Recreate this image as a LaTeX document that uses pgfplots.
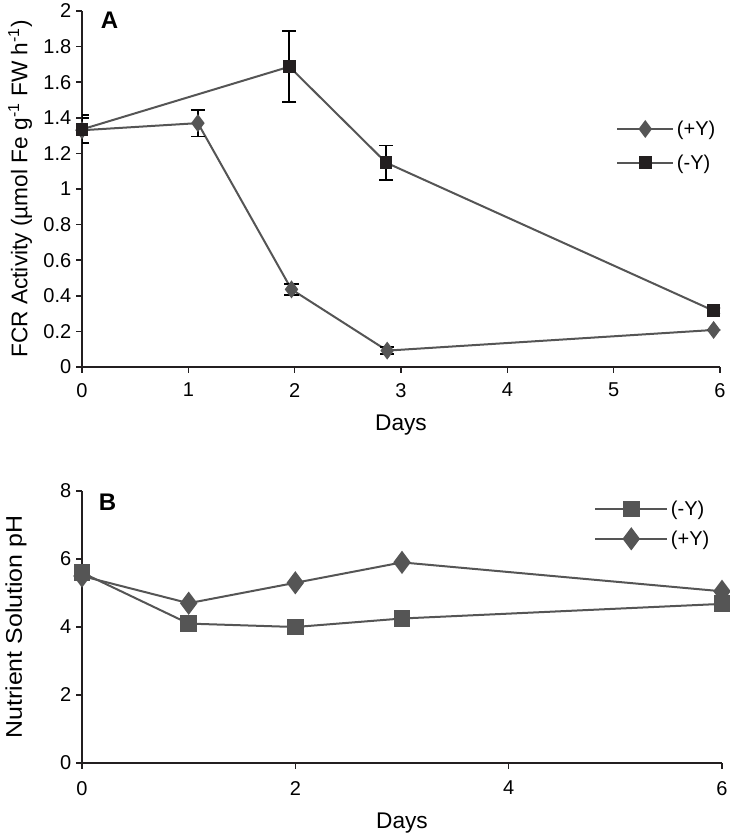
\documentclass[border=0pt]{standalone}
\usepackage{fontspec}
\setmainfont{Liberation Sans}
\usepackage{graphicx}
\usepackage{pgfplots}
\pgfplotsset{compat=1.18}
\definecolor{lgrey}{HTML}{555555}
\definecolor{dk}{HTML}{231F20}

\pgfplotsset{
  fcrbase/.style={
    scale only axis,
    axis lines*=left,
    axis line style={dk, line width=1.1pt},
    tick align=outside,
    tick style={dk, line width=1.1pt},
    major tick length=4.5pt,
    xtick pos=bottom, ytick pos=left,
    /pgf/number format/assume math mode=true,
    tick label style={font=\fontsize{15}{17}\selectfont},
    xticklabel style={yshift=-4pt},
    label style={font=\fontsize{17}{19}\selectfont},
    legend style={draw=none, fill=none, inner sep=0pt, row sep=9pt,
      font=\fontsize{15}{17}\selectfont, cells={anchor=west}},
    legend cell align=left,
  },
}

\begin{document}
\begin{tikzpicture}
\path[use as bounding box] (0pt,0pt) rectangle (546.75pt,627.75pt);

% Panel A
\begin{axis}[fcrbase,
  at={(61.5pt,352.5pt)}, anchor=south west,
  width=478.5pt, height=267pt,
  xmin=0, xmax=6, ymin=0, ymax=2,
  xtick={0,1,...,6},
  ytick={0,0.2,...,2},
  xlabel={Days},
  xlabel style={at={(axis description cs:0.5,-0.163)}, anchor=center},
  ylabel={FCR Activity (µmol Fe g\textsuperscript{-1} FW h\textsuperscript{-1})},
  ylabel style={at={(axis description cs:-0.097,0.5)}, anchor=center},
  legend image code/.code={\draw[mark repeat=2,mark phase=2] plot coordinates {(0pt,0pt)(21pt,0pt)(42pt,0pt)};},
  legend style={at={(axis description cs:0.837,0.70)}, anchor=north west},
  error bars/error bar style={black, line width=1.3pt},
  error bars/error mark options={rotate=90, mark size=5.3pt, line width=1.3pt},
]
\addplot[lgrey, line width=1.5pt, mark=diamond*, mark size=5.5pt,
  mark options={fill=lgrey, draw=lgrey},
  error bars/.cd, y dir=both, y explicit]
  coordinates {
  (0,1.33) +- (0,0.07)
  (1.09,1.37) +- (0,0.075)
  (1.97,0.436) +- (0,0.03)
  (2.87,0.092) +- (0,0.02)
  (5.94,0.208) +- (0,0)
};
\addlegendentry{(+Y)}
\addplot[lgrey, line width=1.5pt, mark=square*, mark size=4pt,
  mark options={fill=dk, draw=dk},
  error bars/.cd, y dir=both, y explicit]
  coordinates {
  (0,1.335) +- (0,0.08)
  (1.95,1.687) +- (0,0.2)
  (2.86,1.148) +- (0,0.097)
  (5.94,0.316) +- (0,0.015)
};
\addlegendentry{(-Y)}
\node[font=\bfseries\fontsize{18}{20}\selectfont] at (axis description cs:0.043,0.975) {A};
\end{axis}

% Panel B
\begin{axis}[fcrbase,
  at={(61.5pt,55.5pt)}, anchor=south west,
  width=480pt, height=204pt,
  xmin=0, xmax=6, ymin=0, ymax=8,
  xtick={0,2,4,6},
  ytick={0,2,4,6,8},
  xticklabel style={yshift=-1.5pt},
  xlabel={Days},
  xlabel style={at={(axis description cs:0.5,-0.22)}, anchor=center},
  ylabel={\scalebox{1.1}[1]{Nutrient Solution pH}},
  ylabel style={at={(axis description cs:-0.103,0.5)}, anchor=center},
  legend image code/.code={\draw[mark repeat=2,mark phase=2] plot coordinates {(0pt,0pt)(27pt,0pt)(54pt,0pt)};},
  legend style={at={(axis description cs:0.80,0.975)}, anchor=north west, row sep=6pt},
]
\addplot[lgrey, line width=1.5pt, mark=square*, mark size=5.6pt,
  mark options={fill=lgrey, draw=lgrey}]
  coordinates {(0,5.6) (1,4.1) (2,4.0) (3,4.25) (6,4.68)};
\addlegendentry{(-Y)}
\addplot[lgrey, line width=1.5pt, mark=diamond*, mark size=7.5pt,
  mark options={fill=lgrey, draw=lgrey}]
  coordinates {(0,5.5) (1,4.7) (2,5.3) (3,5.9) (6,5.05)};
\addlegendentry{(+Y)}
\node[font=\bfseries\fontsize{18}{20}\selectfont] at (axis description cs:0.04,0.96) {B};
\end{axis}
\end{tikzpicture}
\end{document}
